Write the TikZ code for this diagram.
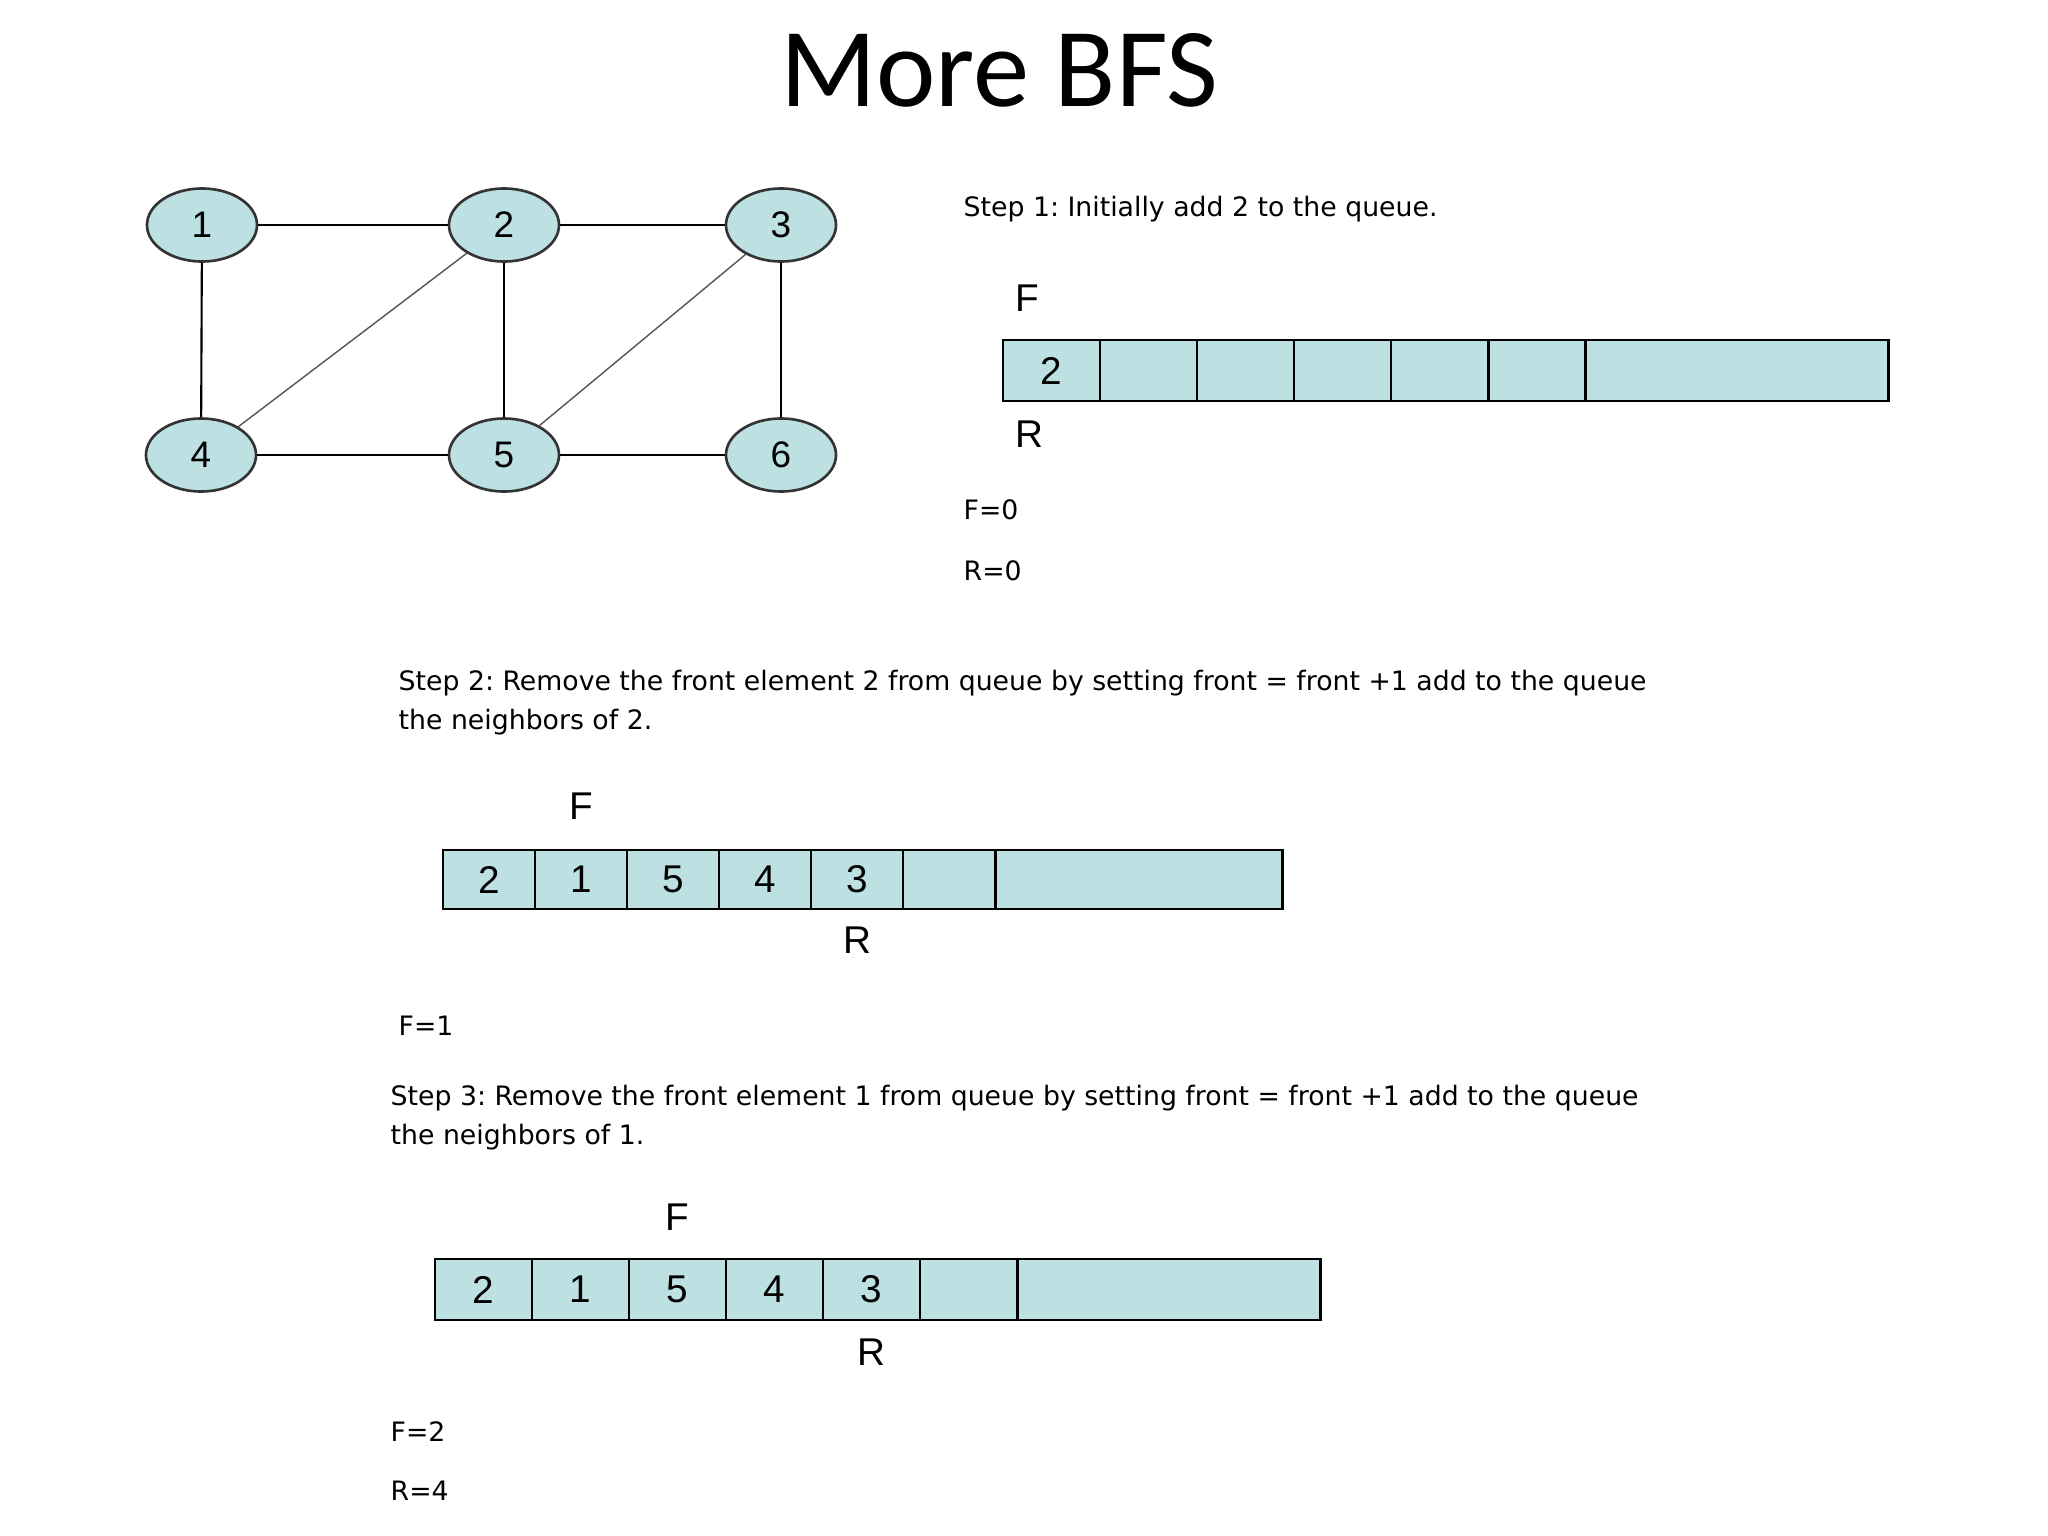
\documentclass[tikz,border=0pt]{standalone}
\usepackage{fontspec}
\setmainfont{Liberation Sans}
\newfontfamily\titlefont{Carlito}
\newfontfamily\stepfont{DejaVu Sans}
\usepackage{xcolor}
\definecolor{nodeteal}{HTML}{BDE0E2}
\definecolor{edgegray}{HTML}{555555}
\usepackage{tikz}
\usetikzlibrary{positioning, shapes.geometric}
\frenchspacing
\tikzset{
  vert/.style={draw=black!80, line width=0.75pt, ellipse, fill=nodeteal,
    minimum width=1.1cm, minimum height=0.73cm, inner sep=0pt,
    font=\fontsize{10.5}{12}\selectfont},
  qcell/.style={draw, line width=0.7pt, fill=nodeteal, minimum width=0.97cm,
    minimum height=0.61cm, inner sep=0pt, outer sep=0pt,
    font=\fontsize{11}{13}\selectfont},
  ptr/.style={inner sep=0pt, font=\fontsize{11}{13}\selectfont},
  steptext/.style={anchor=west, inner sep=0pt, align=left,
    font=\stepfont\fontsize{7.6}{11.1}\selectfont},
}

\begin{document}
\begin{tikzpicture}[x=0.01cm, y=-0.01cm]
  \fill[white] (0,0) rectangle (2048,1536);
  \useasboundingbox (0,0) rectangle (2048,1536);

  \node[font=\titlefont\fontsize{32}{38}\selectfont] (title) at (999,70) {More BFS};

  % graph
  \node[vert] (v1) at (202,225) {1};
  \node[vert] (v2) at (504,225) {2};
  \node[vert] (v3) at (781,225) {3};
  \node[vert] (v4) at (201,455) {4};
  \node[vert] (v5) at (504,455) {5};
  \node[vert] (v6) at (781,455) {6};

  \draw[line width=0.6pt] (v1) -- (v2);
  \draw[line width=0.6pt] (v2) -- (v3);
  \draw[line width=0.6pt] (v1) -- (v4);
  \draw[line width=0.6pt] (v2) -- (v5);
  \draw[line width=0.6pt] (v3) -- (v6);
  \draw[line width=0.6pt] (v4) -- (v5);
  \draw[line width=0.6pt] (v5) -- (v6);
  \draw[edgegray, line width=0.4pt] (v2) -- (v4);
  \draw[edgegray, line width=0.4pt] (v3) -- (v5);

  % step 1
  \node[steptext] (s1) at (963,209) {Step 1: Initially add 2 to the queue.};
  \node[qcell] (qa0) at (1051.5,370.5) {2};
  \node[qcell, right=0pt of qa0] (qa1) {};
  \node[qcell, right=0pt of qa1] (qa2) {};
  \node[qcell, right=0pt of qa2] (qa3) {};
  \node[qcell, right=0pt of qa3] (qa4) {};
  \node[qcell, right=0pt of qa4] (qa5) {};
  \node[qcell, right=0pt of qa5, minimum width=3.03cm] (qa6) {};
  \node[ptr, above=0.28cm of qa0, xshift=-0.24cm] (fa) {F};
  \node[ptr, below=0.19cm of qa0, xshift=-0.22cm] (ra) {R};
  \node[steptext] (f1) at (963,510) {F=0};
  \node[steptext] (r1) at (963,571) {R=0};

  % step 2
  \node[steptext] (s2) at (398,703)
       {Step 2: Remove the front element 2 from queue by setting front = front +1 add to the queue\\the neighbors of 2.};
  \node[qcell, minimum width=0.92cm, minimum height=0.59cm] (qb0) at (489,879.5) {2};
  \node[qcell, minimum width=0.92cm, minimum height=0.59cm, right=0pt of qb0] (qb1) {1};
  \node[qcell, minimum width=0.92cm, minimum height=0.59cm, right=0pt of qb1] (qb2) {5};
  \node[qcell, minimum width=0.92cm, minimum height=0.59cm, right=0pt of qb2] (qb3) {4};
  \node[qcell, minimum width=0.92cm, minimum height=0.59cm, right=0pt of qb3] (qb4) {3};
  \node[qcell, minimum width=0.92cm, minimum height=0.59cm, right=0pt of qb4] (qb5) {};
  \node[qcell, minimum width=2.87cm, minimum height=0.59cm, right=0pt of qb5] (qb6) {};
  \node[ptr, above=0.3cm of qb1] (fb) {F};
  \node[ptr, below=0.17cm of qb4] (rb) {R};
  \node[steptext] (f2) at (398,1026) {F=1};

  % step 3
  \node[steptext] (s3) at (390,1117.5)
       {Step 3: Remove the front element 1 from queue by setting front = front +1 add to the queue\\the neighbors of 1.};
  \node[qcell] (qc0) at (483.5,1289.5) {2};
  \node[qcell, right=0pt of qc0] (qc1) {1};
  \node[qcell, right=0pt of qc1] (qc2) {5};
  \node[qcell, right=0pt of qc2] (qc3) {4};
  \node[qcell, right=0pt of qc3] (qc4) {3};
  \node[qcell, right=0pt of qc4] (qc5) {};
  \node[qcell, right=0pt of qc5, minimum width=3.03cm] (qc6) {};
  \node[ptr, above=0.28cm of qc2] (fc) {F};
  \node[ptr, below=0.18cm of qc4] (rc) {R};
  \node[steptext] (f3) at (390,1432) {F=2};
  \node[steptext] (r3) at (390,1491) {R=4};
\end{tikzpicture}
\end{document}
